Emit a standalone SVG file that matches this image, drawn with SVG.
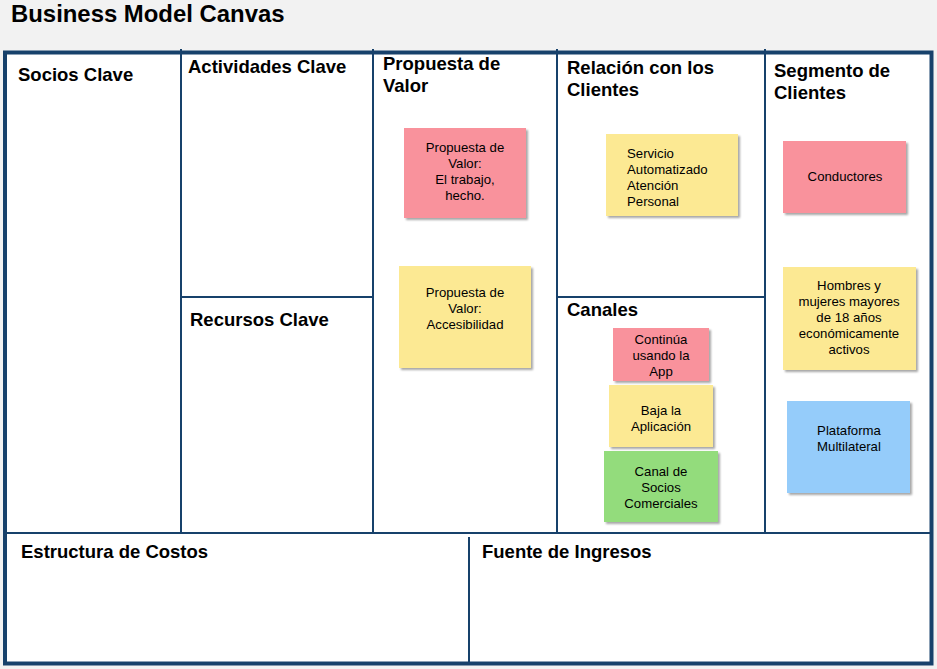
<svg xmlns="http://www.w3.org/2000/svg" width="937" height="669" viewBox="0 0 937 669">
<defs>
<filter id="sh" x="-10%" y="-10%" width="130%" height="130%">
<feGaussianBlur in="SourceAlpha" stdDeviation="1.2"/>
<feOffset dx="2" dy="2" result="b"/>
<feComponentTransfer><feFuncA type="linear" slope="0.35"/></feComponentTransfer>
<feMerge><feMergeNode/><feMergeNode in="SourceGraphic"/></feMerge>
</filter>
</defs>
<style>
.h{font-family:"Liberation Sans",Arial,sans-serif;font-weight:bold;font-size:18.5px;fill:#000}
.t{font-family:"Liberation Sans",Arial,sans-serif;font-size:13.2px;fill:#000}
.c{text-anchor:middle}
.ln{stroke:#17416b;stroke-width:2;fill:none}
.pink{fill:#f9929c}
.yel{fill:#fce993}
.grn{fill:#93dc7c}
.blu{fill:#95ccfa}
</style>
<rect width="937" height="669" fill="#f2f2f2"/>
<text x="11" y="22" font-family="Liberation Sans, Arial, sans-serif" font-weight="bold" font-size="23.9" fill="#000">Business Model Canvas</text>
<g id="frame">
<rect x="5" y="52.5" width="926.5" height="611" fill="#fff" stroke="#17416b" stroke-width="4"/>
</g>
<g id="connectors">
<line class="ln" x1="181" y1="49" x2="181" y2="533"/>
<line class="ln" x1="373" y1="49" x2="373" y2="533"/>
<line class="ln" x1="557" y1="49" x2="557" y2="533"/>
<line class="ln" x1="765" y1="49" x2="765" y2="533"/>
<line class="ln" x1="181" y1="297" x2="373" y2="297"/>
<line class="ln" x1="557" y1="297" x2="765" y2="297"/>
<line class="ln" x1="6" y1="533" x2="931" y2="533"/>
<line class="ln" x1="469" y1="537" x2="469" y2="663"/>
</g>
<g id="socios"><text class="h" x="18" y="81">Socios Clave</text></g>
<g id="actividades"><text class="h" x="188" y="73">Actividades Clave</text></g>
<g id="recursos"><text class="h" x="190" y="326">Recursos Clave</text></g>
<g id="propuesta"><text class="h" x="383" y="70">Propuesta de</text><text class="h" x="383" y="92">Valor</text></g>
<g id="relacion"><text class="h" x="567" y="74">Relación con los</text><text class="h" x="567" y="96">Clientes</text></g>
<g id="canales"><text class="h" x="567" y="316">Canales</text></g>
<g id="segmento"><text class="h" x="774" y="77">Segmento de</text><text class="h" x="774" y="99">Clientes</text></g>
<g id="costos"><text class="h" x="21" y="558">Estructura de Costos</text></g>
<g id="ingresos"><text class="h" x="482" y="558">Fuente de Ingresos</text></g>
<g id="pv1">
<rect class="pink" x="404" y="128" width="122" height="90" filter="url(#sh)"/>
<text class="t c" x="465" y="152">Propuesta de</text>
<text class="t c" x="465" y="168">Valor:</text>
<text class="t c" x="465" y="184">El trabajo,</text>
<text class="t c" x="465" y="200">hecho.</text>
</g>
<g id="pv2">
<rect class="yel" x="399" y="266" width="132" height="102" filter="url(#sh)"/>
<text class="t c" x="465" y="297">Propuesta de</text>
<text class="t c" x="465" y="313">Valor:</text>
<text class="t c" x="465" y="329">Accesibilidad</text>
</g>
<g id="rel1">
<rect class="yel" x="606" y="134" width="132" height="82" filter="url(#sh)"/>
<text class="t" x="627" y="158">Servicio</text>
<text class="t" x="627" y="174">Automatizado</text>
<text class="t" x="627" y="190">Atención</text>
<text class="t" x="627" y="206">Personal</text>
</g>
<g id="can1">
<rect class="pink" x="613" y="328" width="96" height="53" filter="url(#sh)"/>
<text class="t c" x="661" y="344">Continúa</text>
<text class="t c" x="661" y="360">usando la</text>
<text class="t c" x="661" y="376">App</text>
</g>
<g id="can2">
<rect class="yel" x="609" y="385" width="104" height="62" filter="url(#sh)"/>
<text class="t c" x="661" y="415">Baja la</text>
<text class="t c" x="661" y="431">Aplicación</text>
</g>
<g id="can3">
<rect class="grn" x="604" y="451" width="114" height="71" filter="url(#sh)"/>
<text class="t c" x="661" y="476">Canal de</text>
<text class="t c" x="661" y="492">Socios</text>
<text class="t c" x="661" y="508">Comerciales</text>
</g>
<g id="seg1">
<rect class="pink" x="783" y="141" width="123" height="72" filter="url(#sh)"/>
<text class="t c" x="845" y="181">Conductores</text>
</g>
<g id="seg2">
<rect class="yel" x="783" y="267" width="133" height="103" filter="url(#sh)"/>
<text class="t c" x="849" y="290">Hombres y</text>
<text class="t c" x="849" y="306">mujeres mayores</text>
<text class="t c" x="849" y="322">de 18 años</text>
<text class="t c" x="849" y="338">económicamente</text>
<text class="t c" x="849" y="354">activos</text>
</g>
<g id="seg3">
<rect class="blu" x="787" y="401" width="123" height="92" filter="url(#sh)"/>
<text class="t c" x="849" y="435">Plataforma</text>
<text class="t c" x="849" y="451">Multilateral</text>
</g>
</svg>
